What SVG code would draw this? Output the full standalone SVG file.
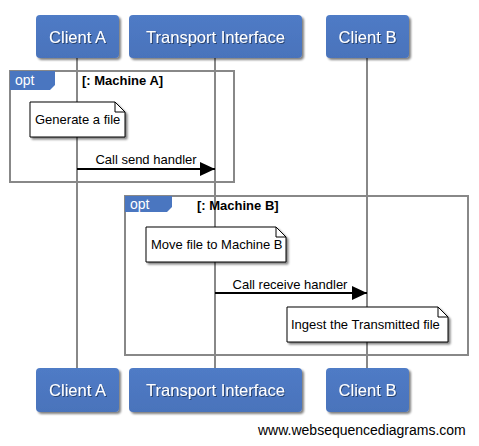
<svg xmlns="http://www.w3.org/2000/svg" width="479" height="446" viewBox="0 0 479 446">
<defs>
<filter id="sh" x="-10%" y="-10%" width="130%" height="130%">
<feGaussianBlur in="SourceAlpha" stdDeviation="1"/>
<feOffset dx="2" dy="2" result="o"/>
<feComponentTransfer><feFuncA type="linear" slope="0.5"/></feComponentTransfer>
<feMerge><feMergeNode/><feMergeNode in="SourceGraphic"/></feMerge>
</filter>
<filter id="ts" x="-10%" y="-20%" width="120%" height="150%">
<feGaussianBlur in="SourceAlpha" stdDeviation="0.6"/>
<feOffset dx="1" dy="1"/>
<feComponentTransfer><feFuncA type="linear" slope="0.45"/></feComponentTransfer>
<feMerge><feMergeNode/><feMergeNode in="SourceGraphic"/></feMerge>
</filter>
<linearGradient id="bg" x1="0" y1="0" x2="0" y2="1">
<stop offset="0" stop-color="#4f7bc6"/>
<stop offset="1" stop-color="#4a73bb"/>
</linearGradient>
<marker id="ah" markerWidth="15" markerHeight="14" refX="15" refY="7" orient="auto" markerUnits="userSpaceOnUse">
<path d="M0,0 L15,7 L0,14 Z" fill="#000"/>
</marker>
</defs>
<style>
.actor rect{fill:url(#bg);filter:url(#sh)}
.actor text{font-family:"Liberation Sans",Arial,sans-serif;font-size:16.5px;fill:#fff;text-anchor:middle;filter:url(#ts)}
.life{stroke:#888;stroke-width:2;fill:none}
.frame{fill:none;stroke:#888;stroke-width:2}
.tab{fill:#4a76c0}
.tabt{font-family:"Liberation Sans",Arial,sans-serif;font-size:14px;fill:#fff}
.cond{font-family:"Liberation Sans",Arial,sans-serif;font-size:13px;font-weight:bold;fill:#000}
.note path.b{fill:#fff;stroke:#000;stroke-width:1;filter:url(#sh)}
.note path.f{fill:none;stroke:#000;stroke-width:1}
.note text,.msg text{font-family:"Liberation Sans",Arial,sans-serif;font-size:13px;fill:#000}
.msg text{text-anchor:middle}
.msg line{stroke:#000;stroke-width:2;marker-end:url(#ah)}
.foot{font-family:"Liberation Sans",Arial,sans-serif;font-size:14px;fill:#000}
</style>
<g id="lifelines">
<line class="life" x1="77" y1="58" x2="77" y2="368"/>
<line class="life" x1="215" y1="58" x2="215" y2="368"/>
<line class="life" x1="367" y1="58" x2="367" y2="368"/>
</g>
<g id="frameA">
<rect class="frame" x="10" y="71" width="224" height="111"/>
<path class="tab" d="M10,71 H55 V85 L50,90 H10 Z"/>
<text class="tabt" x="15" y="85">opt</text>
<text class="cond" x="82" y="85">[: Machine A]</text>
</g>
<g id="frameB">
<rect class="frame" x="125" y="196" width="343" height="159"/>
<path class="tab" d="M125,196 H172 V207 L167,212 H125 Z"/>
<text class="tabt" x="130" y="209">opt</text>
<text class="cond" x="197" y="210">[: Machine B]</text>
</g>
<g id="clientA_top" class="actor"><rect x="36" y="15" width="83" height="43" rx="4"/><text x="77.5" y="43">Client A</text></g>
<g id="transport_top" class="actor"><rect x="129" y="15" width="173" height="43" rx="4"/><text x="215.5" y="43">Transport Interface</text></g>
<g id="clientB_top" class="actor"><rect x="326" y="15" width="83" height="43" rx="4"/><text x="367.5" y="43">Client B</text></g>
<g id="clientA_bot" class="actor"><rect x="36" y="368" width="83" height="44" rx="4"/><text x="77.5" y="396">Client A</text></g>
<g id="transport_bot" class="actor"><rect x="129" y="368" width="173" height="44" rx="4"/><text x="215.5" y="396">Transport Interface</text></g>
<g id="clientB_bot" class="actor"><rect x="326" y="368" width="83" height="44" rx="4"/><text x="367.5" y="396">Client B</text></g>
<g id="note1" class="note">
<path class="b" d="M30,102 H115 L125,112 V137 H30 Z"/>
<path class="f" d="M115,102 V112 H125"/>
<text x="35" y="124">Generate a file</text>
</g>
<g id="note2" class="note">
<path class="b" d="M146,227 H276 L286,237 V262 H146 Z"/>
<path class="f" d="M276,227 V237 H286"/>
<text x="151" y="249">Move file to Machine B</text>
</g>
<g id="note3" class="note">
<path class="b" d="M287,307 H438 L448,317 V342 H287 Z"/>
<path class="f" d="M438,307 V317 H448"/>
<text x="291" y="329">Ingest the Transmitted file</text>
</g>
<g id="connectors">
<g class="msg"><line x1="77" y1="169" x2="215" y2="169"/><text x="146" y="164">Call send handler</text></g>
<g class="msg"><line x1="215" y1="293" x2="367" y2="293"/><text x="290" y="289">Call receive handler</text></g>
</g>
<text class="foot" x="258" y="435">www.websequencediagrams.com</text>
</svg>
